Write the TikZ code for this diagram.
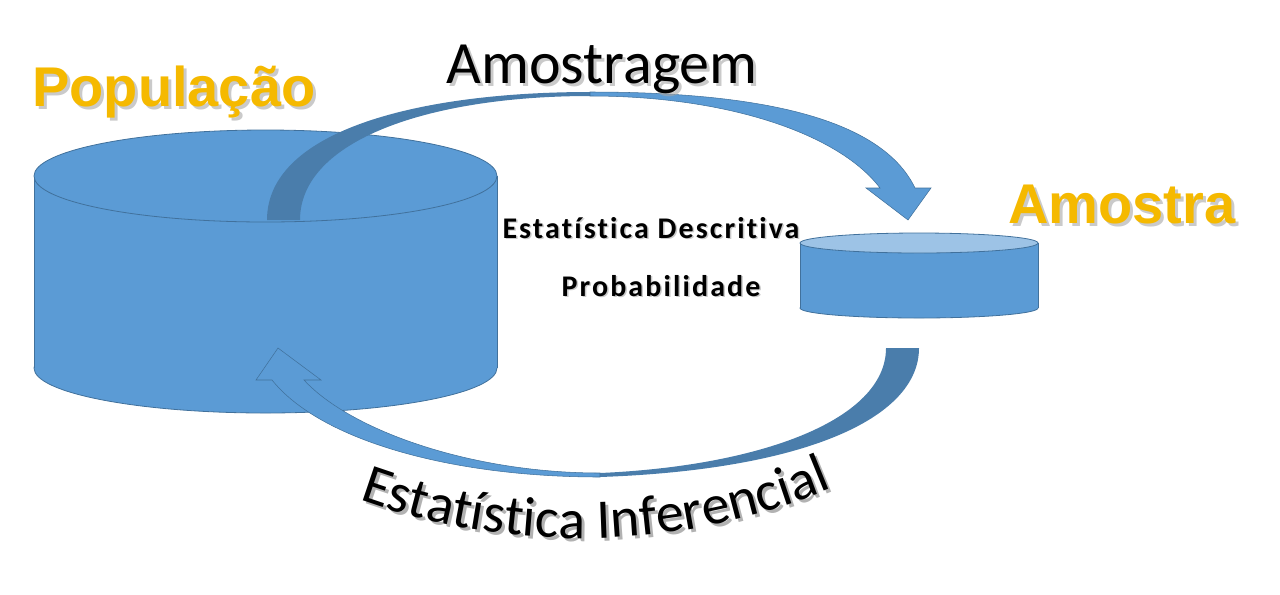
\documentclass[tikz,border=0pt]{standalone}
\usepackage{fontspec}
\setmainfont{Carlito}[Ligatures=NoCommon]
\newfontfamily\titlefont{Liberation Sans}
\usetikzlibrary{decorations.text}

\definecolor{cylblue}{HTML}{5B9BD5}
\definecolor{shadeblue}{HTML}{4A7DAB}
\definecolor{edgeblue}{HTML}{41719C}
\definecolor{lidblue}{HTML}{9DC3E6}
\definecolor{gold}{RGB}{245,185,0}

\begin{document}
\begin{tikzpicture}[x=0.75pt,y=-0.75pt,
  cyl/.style={fill=cylblue,draw=edgeblue,line width=0.6pt},
  lid/.style={fill=lidblue,draw=edgeblue,line width=0.6pt},
  side/.style={draw=edgeblue,line width=0.6pt},
  back/.style={fill=shadeblue},
  front/.style={fill=cylblue,draw=edgeblue,line width=0.4pt},
  goldtxt/.style={font=\titlefont\bfseries\fontsize{42}{42}\selectfont,text=gold,anchor=base west,inner sep=0pt},
  bigtxt/.style={font=\fontsize{45}{45}\selectfont,anchor=base,inner sep=0pt},
  midtxt/.style={font=\bfseries\fontsize{22.5}{22.5}\selectfont\addfontfeature{LetterSpace=7},anchor=base,inner sep=0pt},
  ghost/.style={text=black!35,opacity=0.6}]
\useasboundingbox (0,0) rectangle (1280,594);

% Populacao cylinder
\draw[cyl] (265.5,368) ellipse [x radius=231.5,y radius=45];
\fill[cylblue] (34,176) rectangle (497,368);
\draw[side] (34,176) -- (34,368) (497,176) -- (497,368);
\draw[cyl] (265.5,176) ellipse [x radius=231.5,y radius=46];
\coordinate (popTop) at (265.5,176);

% Amostragem arrow: underside, then top face with head
\fill[back] (267,220) .. controls (267,130) and (420,92) .. (590,92) -- (590,96) .. controls (430,96) and (300,140) .. (300,220) -- cycle;
\filldraw[front] (590,92) .. controls (750,92) and (880,115) .. (915,188) -- (931,188) -- (908,220) -- (866,188) -- (880,188) .. controls (840,135) and (730,96) .. (590,96) -- cycle;

% Amostra cylinder
\draw[cyl] (919,308) ellipse [x radius=119,y radius=10];
\fill[cylblue] (800,243) rectangle (1038,308);
\draw[side] (800,243) -- (800,308) (1038,243) -- (1038,308);
\draw[lid] (919,243) ellipse [x radius=119,y radius=10];
\coordinate (amoTop) at (919,243);

% Inferencial arrow
\fill[back] (919,348) .. controls (919,420) and (800,470) .. (600,477) -- (600,473) .. controls (760,466) and (886,420) .. (886,348) -- cycle;
\filldraw[front] (600,477) .. controls (450,477) and (320,440) .. (272,380) -- (256,380) -- (278,348) -- (321,380) -- (304,380) .. controls (350,430) and (470,473) .. (600,473) -- cycle;

% titles
\node[goldtxt,ghost] (popS) at (35,109) {População};
\node[goldtxt] (pop) at (32,106) {População};
\node[goldtxt,ghost] (amoS) at (1011,226) {Amostra};
\node[goldtxt] (amo) at (1008,223) {Amostra};
\node[bigtxt,ghost] (amgS) at (605,86) {Amostragem};
\node[bigtxt] (amg) at (602,83) {Amostragem};

% middle labels
\node[midtxt,ghost] (descS) at (652.5,239.5) {Estatística Descritiva};
\node[midtxt] (desc) at (651,238) {Estatística Descritiva};
\node[midtxt,ghost] (probS) at (662.5,297.5) {Probabilidade};
\node[midtxt] (prob) at (661,296) {Probabilidade};

% arched label
\path[shift={(3,3)},decorate,decoration={text along path,text align=center,
  text={|\fontsize{42}{42}\selectfont\color{black!30}|Estatística Inferencial}}]
  (290,470) .. controls (480,565) and (710,562) .. (900,455);
\path[decorate,decoration={text along path,text align=center,
  text={|\fontsize{42}{42}\selectfont|Estatística Inferencial}}]
  (290,470) .. controls (480,565) and (710,562) .. (900,455);
\end{tikzpicture}
\end{document}
